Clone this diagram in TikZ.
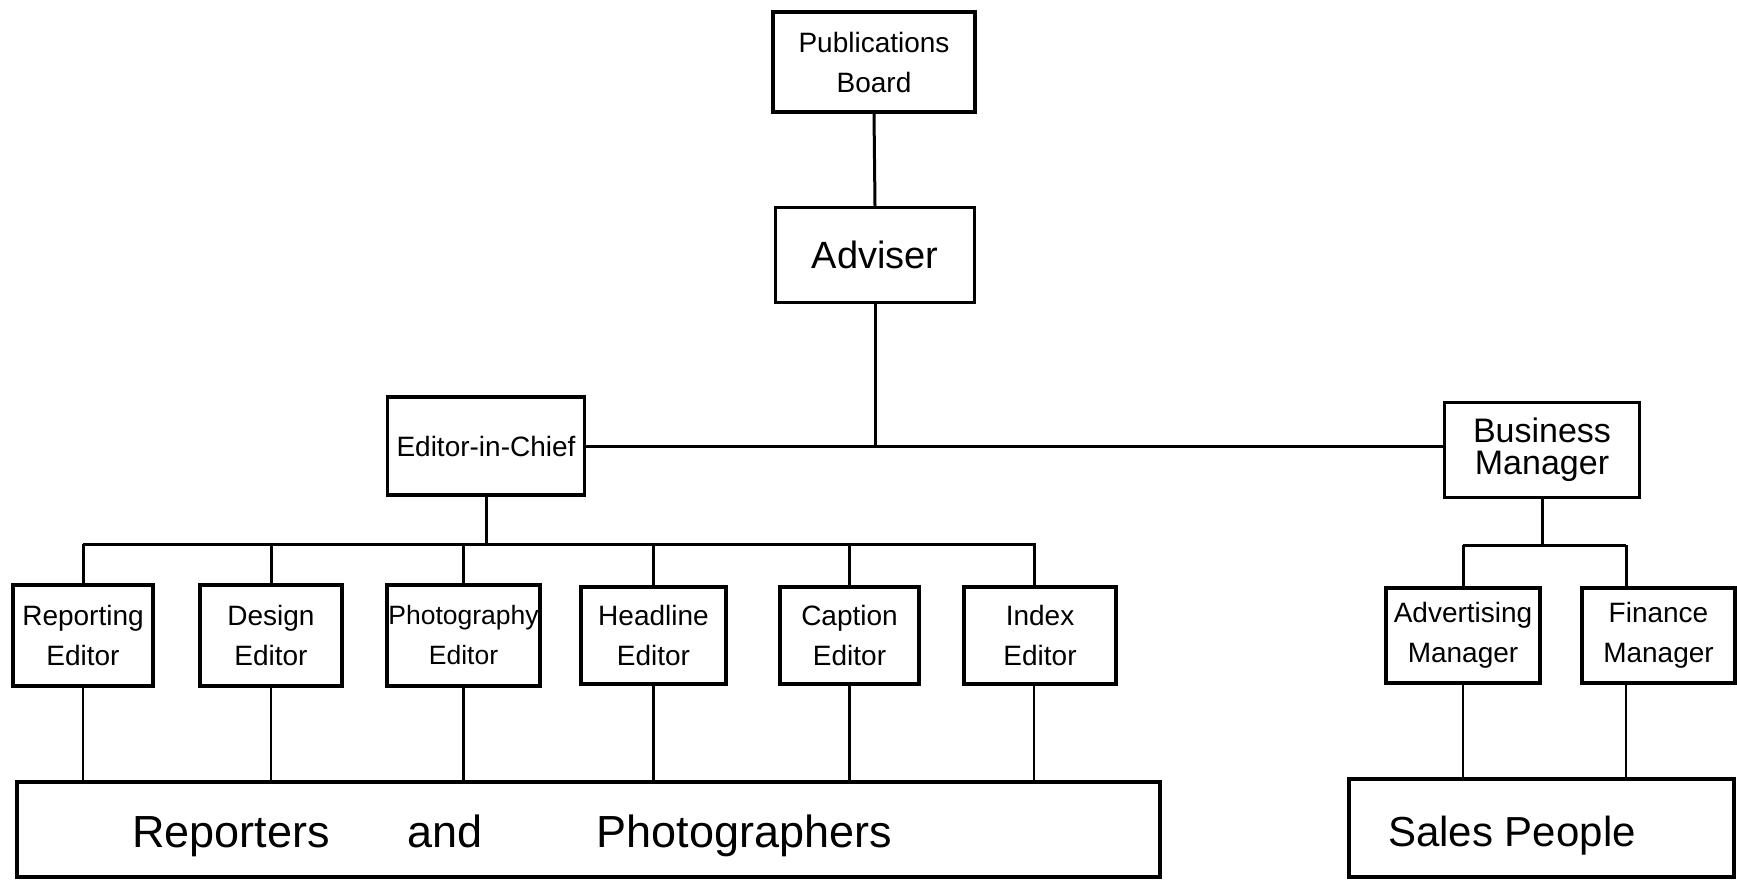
\documentclass[tikz,border=0pt]{standalone}
\usepackage{fontspec}
\setmainfont{Liberation Sans}
\usetikzlibrary{calc}
\begin{document}
\begin{tikzpicture}[x=1pt,y=-1pt,
  box/.style={draw=black,line width=3.5pt,rectangle,inner sep=0pt,align=center},
  small/.style={font=\fontsize{28}{40}\selectfont},
  mid/.style={font=\fontsize{34}{32}\selectfont},
  big/.style={font=\fontsize{45}{48}\selectfont},
  conn/.style={line width=3pt},
  thin/.style={line width=2.2pt}]
\useasboundingbox (0,0) rectangle (1737,879);
% boxes
\node[box,small,minimum width=202pt,minimum height=100pt] (pb) at (874,62) {Publications\\Board};
\node[box,font=\fontsize{38}{40}\selectfont,minimum width=199pt,minimum height=95pt] (adv) at (875,255) {Adviser};
\node[box,small,minimum width=197pt,minimum height=98pt] (eic) at (486,446) {Editor-in-Chief};
\node[box,mid,minimum width=195pt,minimum height=95pt] (bm) at (1542,450) {Business\\Manager};
\node[box,small,minimum width=140pt,minimum height=101pt] (re) at (83,635.5) {Reporting\\Editor};
\node[box,small,minimum width=142pt,minimum height=101pt] (de) at (271,635.5) {Design\\Editor};
\node[box,font=\fontsize{26.5}{40}\selectfont,minimum width=153pt,minimum height=101pt] (pe) at (463.5,635.5) {Photography\\Editor};
\node[box,small,minimum width=145pt,minimum height=97pt] (he) at (653.5,635.5) {Headline\\Editor};
\node[box,small,minimum width=139pt,minimum height=97pt] (ce) at (849.5,635.5) {Caption\\Editor};
\node[box,small,minimum width=152pt,minimum height=97pt] (ie) at (1040,635.5) {Index\\Editor};
\node[box,small,minimum width=154pt,minimum height=95pt] (am) at (1463,635.5) {Advertising\\Manager};
\node[box,small,minimum width=153pt,minimum height=95pt] (fm) at (1658.5,635.5) {Finance\\Manager};
\node[box,minimum width=1143pt,minimum height=95pt] (rp) at (588.5,829.5) {};
\node[big] (rptext) at (512,836) {Reporters\hspace{78pt}and\hspace{114pt}Photographers};
\node[box,minimum width=385pt,minimum height=98pt] (sp) at (1541.5,828) {};
\node[font=\fontsize{42}{44}\selectfont] (sptext) at (1512,836) {Sales People};
% bus coordinates
\coordinate (ebus) at (78,544);
\coordinate (bbus) at (1462,545);
\coordinate (fmdrop) at (1626,545);
% upper connectors
\draw[conn] (pb.south) -- (adv.north);
\draw[conn] (adv.south) -- (adv.south |- eic.east);
\draw[conn] (eic.east) -- (eic.east -| bm.west);
\draw[conn] (eic.south) -- (eic.south |- ebus);
\draw[conn] (re.north |- ebus) -- ($(ie.north |- ebus)+(-4,0)$);
\foreach \n in {re,de,pe,he,ce} \draw[conn] (\n.north |- ebus) -- (\n.north);
\draw[conn] ($(ie.north |- ebus)+(-6,0)$) -- ($(ie.north)+(-6,0)$);
\draw[conn] (bm.south) -- (bm.south |- bbus);
\draw[conn] (am.north |- bbus) -- (fmdrop);
\draw[conn] (am.north |- bbus) -- (am.north);
\draw[conn] (fmdrop) -- (fmdrop |- fm.north);
% lower connectors
\foreach \n in {re,de,pe,he,ce} \draw[thin] (\n.south) -- (\n.south |- rp.north);
\draw[thin] ($(ie.south)+(-6,0)$) -- ($(ie.south |- rp.north)+(-6,0)$);
\draw[thin] (am.south) -- (am.south |- sp.north);
\draw[thin] (fm.south -| fmdrop) -- (fmdrop |- sp.north);
\end{tikzpicture}
\end{document}
